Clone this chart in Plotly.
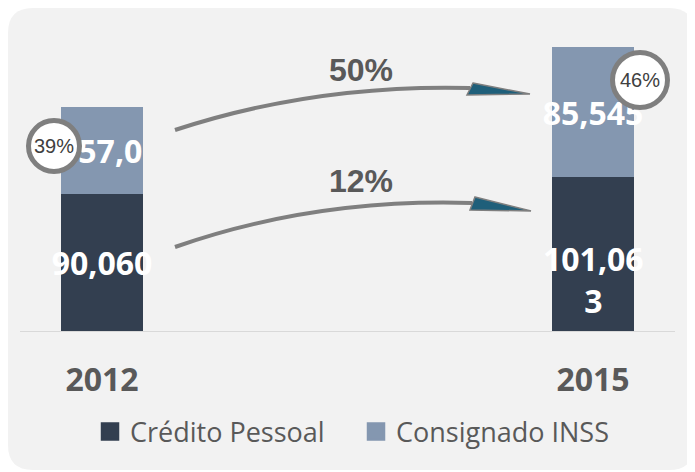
import plotly.graph_objects as go

# ---- data ----
years = ["2012", "2015"]
series_names = ["Crédito Pessoal", "Consignado INSS"]
credito_pessoal = [90060, 101063]
consignado_inss = [57030, 85545]
credito_labels = ["90,060", "101,06<br>3"]
consignado_labels = ["&nbsp;&nbsp;57,0", "85,545"]
share_labels = ["39%", "46%"]
growth_labels = ["50%", "12%"]

# the page body adds an 8px margin, so the figure starts at (8, 8) of the picture
OFF = 8
W, H = 695 - OFF, 472 - OFF
L, R, T, B = 20, 675, 20, 331  # plot area in picture pixels


def px(x):
    return (x - L) / (R - L)


def py(y):
    return (B - y) / (B - T)


DARK = "#333f50"
LIGHT = "#8497b0"
GREY_TXT = "#595959"
LABEL_FONT = dict(family="Open Sans", size=32, color="white", weight="bold")

fig = go.Figure()
fig.add_trace(go.Bar(
    x=[0, 1], y=credito_pessoal, name=series_names[0], showlegend=False,
    marker=dict(color=DARK, line=dict(width=0)), width=0.167,
    text=[credito_labels[0], ""], textposition="inside", insidetextanchor="middle",
    textangle=0, constraintext="none", textfont=LABEL_FONT,
))
fig.add_trace(go.Bar(
    x=[0, 1], y=consignado_inss, name=series_names[1], showlegend=False,
    marker=dict(color=LIGHT, line=dict(width=0)), width=0.167,
    text=consignado_labels, textposition="inside", insidetextanchor="middle",
    textangle=0, constraintext="none", textfont=LABEL_FONT,
))
# legend entries with larger square swatches
for nm, col in zip(series_names, [DARK, LIGHT]):
    fig.add_trace(go.Scatter(x=[None], y=[None], mode="markers", name=nm,
                             marker=dict(symbol="square", size=18, color=col,
                                         line=dict(color=col, width=2.5))))

shapes = []
# rounded background panel
x0, y0, x1, y1, r = 8, 8, 694, 470, 25
pts = [
    ("M", x0 + r, y0), ("L", x1 - r, y0), ("Q", x1, y0, x1, y0 + r),
    ("L", x1, y1 - r), ("Q", x1, y1, x1 - r, y1), ("L", x0 + r, y1),
    ("Q", x0, y1, x0, y1 - r), ("L", x0, y0 + r), ("Q", x0, y0, x0 + r, y0),
]
path = ""
for p in pts:
    cmd = p[0]
    coords = p[1:]
    s = " ".join(f"{px(coords[i]):.5f},{py(coords[i+1]):.5f}" for i in range(0, len(coords), 2))
    path += f"{cmd}{s} "
path += "Z"
shapes.append(dict(type="path", xref="paper", yref="paper", path=path,
                   fillcolor="#f2f2f2", line=dict(width=0), layer="below"))


def qpath(p0, c, p2):
    return (f"M{px(p0[0]):.5f},{py(p0[1]):.5f} "
            f"Q{px(c[0]):.5f},{py(c[1]):.5f} {px(p2[0]):.5f},{py(p2[1]):.5f}")


def poly(points):
    return "M" + " L".join(f"{px(a):.5f},{py(b):.5f}" for a, b in points) + " Z"


# decorative curved arrows
arrows = [
    dict(start=(175, 130), ctrl=(315, 84), end=(470, 88),
         head=[(473, 83), (530, 94), (467, 95)]),
    dict(start=(175, 247), ctrl=(315, 198), end=(472, 203),
         head=[(475, 197), (531, 211), (470, 210)]),
]
for a in arrows:
    shapes.append(dict(type="path", xref="paper", yref="paper",
                       path=qpath(a["start"], a["ctrl"], a["end"]),
                       line=dict(color="#7f7f7f", width=4)))
    shapes.append(dict(type="path", xref="paper", yref="paper",
                       path=poly(a["head"]), fillcolor="#1f5f7a",
                       line=dict(color="#7f7f7f", width=1.5)))

# share circles
circles = [((54, 146), 25.5), ((640, 80), 27.5)]
for (cx, cy), rr in circles:
    shapes.append(dict(type="circle", xref="paper", yref="paper",
                       x0=px(cx - rr), x1=px(cx + rr), y0=py(cy + rr), y1=py(cy - rr),
                       fillcolor="white", line=dict(color="#7f7f7f", width=5),
                       layer="above"))

annotations = []
# wrapped label of the 2015 "Crédito Pessoal" segment
annotations.append(dict(x=1, y=credito_pessoal[1] / 2, xref="x", yref="y",
                        text=credito_labels[1], showarrow=False, yshift=-26,
                        font=LABEL_FONT))
for (c, _), lab in zip(circles, share_labels):
    annotations.append(dict(x=px(c[0]), y=py(c[1]), xref="paper", yref="paper",
                            xanchor="center", yanchor="middle",
                            text=lab, showarrow=False,
                            font=dict(family="Liberation Sans", size=20, color="#404040")))
for yy, lab in zip([70, 181], growth_labels):
    annotations.append(dict(x=px(361), y=py(yy), xref="paper", yref="paper",
                            xanchor="center", yanchor="middle",
                            text=f"<b>{lab}</b>", showarrow=False,
                            font=dict(family="Liberation Sans", size=32, color=GREY_TXT)))

fig.update_layout(
    width=W, height=H,
    margin=dict(l=L - OFF, r=695 - R, t=T - OFF, b=472 - B),
    paper_bgcolor="white", plot_bgcolor="rgba(0,0,0,0)",
    barmode="stack", bargap=0,
    showlegend=True,
    legend=dict(orientation="h", x=0.513, xanchor="center", y=py(432), yanchor="middle",
                font=dict(family="Open Sans", size=27, color=GREY_TXT),
                bgcolor="rgba(0,0,0,0)", itemwidth=30, traceorder="normal",
                entrywidth=221, entrywidthmode="pixels"),
    xaxis=dict(range=[-0.167, 1.167], tickvals=[0, 1], ticktext=years,
               showgrid=False, zeroline=False, showline=True, linecolor="#d9d9d9",
               linewidth=1, ticks="", ticklabelstandoff=21,
               tickfont=dict(family="Open Sans", size=32, color=GREY_TXT, weight="bold")),
    yaxis=dict(range=[0, 204000], visible=False, showgrid=False, zeroline=False),
    shapes=shapes, annotations=annotations,
)

fig.write_html("out.html")
